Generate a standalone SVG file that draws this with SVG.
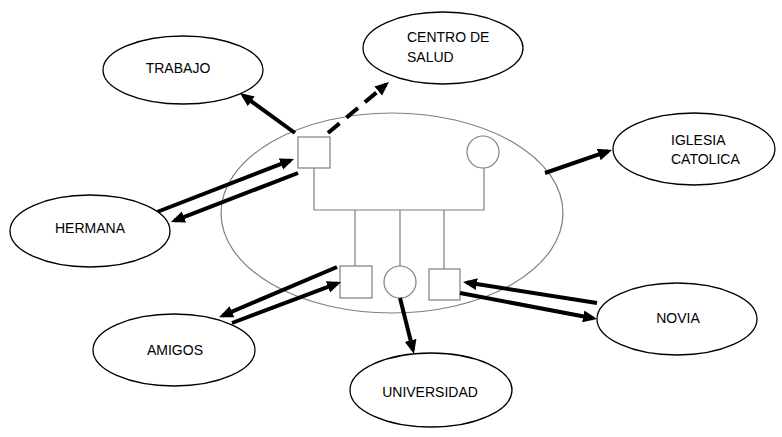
<svg xmlns="http://www.w3.org/2000/svg" width="782" height="437" viewBox="0 0 782 437">
<defs>
<style>
.node{fill:#fff;stroke:#000;stroke-width:1.3}
.lbl{font-family:"Liberation Sans",Arial,sans-serif;font-size:14px;fill:#000}
.fam{fill:#fff;stroke:#7f7f7f;stroke-width:1.2}
.famline{fill:none;stroke:#7f7f7f;stroke-width:1.2}
.arr{stroke:#000;stroke-width:4;fill:none;marker-end:url(#ah)}
</style>
<marker id="ah" markerUnits="userSpaceOnUse" markerWidth="16" markerHeight="14" refX="10" refY="6" orient="auto">
<path d="M0,0 L14,6 L0,12 z" fill="#000"/>
</marker>
</defs>
<rect width="782" height="437" fill="#fff"/>
<g id="household">
<ellipse cx="392" cy="213" rx="171" ry="100" fill="none" stroke="#808080" stroke-width="1.2"/>
<path class="famline" d="M314,168 V210 H484 V168 M355,210 V266 M400,210 V266 M444,210 V269"/>
<rect id="father" class="fam" x="298" y="137" width="32" height="31"/>
<circle id="mother" class="fam" cx="483" cy="152" r="16"/>
<rect id="child1" class="fam" x="340" y="266" width="32" height="32"/>
<circle id="child2" class="fam" cx="400" cy="282" r="16"/>
<rect id="child3" class="fam" x="429" y="269" width="31" height="31"/>
</g>
<g id="connectors">
<line class="arr" x1="295" y1="133" x2="243.2" y2="95.4"/>
<line class="arr" x1="328" y1="133" x2="385.9" y2="84.6" stroke-dasharray="15 9"/>
<line class="arr" x1="545" y1="173" x2="608.2" y2="151.2"/>
<line class="arr" x1="157" y1="212" x2="290.3" y2="160.4"/>
<line class="arr" x1="298" y1="173" x2="174.7" y2="220.6"/>
<line class="arr" x1="337" y1="267" x2="222.7" y2="315.6"/>
<line class="arr" x1="232" y1="323" x2="337.3" y2="283.4"/>
<line class="arr" x1="400" y1="298" x2="413" y2="350.1"/>
<line class="arr" x1="597" y1="303" x2="467" y2="282.6"/>
<line class="arr" x1="460" y1="293" x2="593.1" y2="318.3"/>
</g>
<g id="trabajo">
<ellipse class="node" cx="183" cy="70" rx="80" ry="34"/>
<text class="lbl" x="178" y="73" text-anchor="middle">TRABAJO</text>
</g>
<g id="centro-de-salud">
<ellipse class="node" cx="443" cy="48" rx="80" ry="36"/>
<text class="lbl" x="407" y="42">CENTRO DE</text>
<text class="lbl" x="407" y="62">SALUD</text>
</g>
<g id="iglesia-catolica">
<ellipse class="node" cx="694" cy="149" rx="81" ry="36"/>
<text class="lbl" x="671" y="145">IGLESIA</text>
<text class="lbl" x="671" y="164">CATOLICA</text>
</g>
<g id="hermana">
<ellipse class="node" cx="90" cy="231" rx="80" ry="36"/>
<text class="lbl" x="90" y="233" text-anchor="middle">HERMANA</text>
</g>
<g id="amigos">
<ellipse class="node" cx="174" cy="350" rx="81" ry="36"/>
<text class="lbl" x="175" y="355" text-anchor="middle">AMIGOS</text>
</g>
<g id="universidad">
<ellipse class="node" cx="431" cy="390" rx="81" ry="37"/>
<text class="lbl" x="430" y="397" text-anchor="middle">UNIVERSIDAD</text>
</g>
<g id="novia">
<ellipse class="node" cx="677" cy="319" rx="80" ry="36"/>
<text class="lbl" x="678" y="323" text-anchor="middle">NOVIA</text>
</g>
</svg>
